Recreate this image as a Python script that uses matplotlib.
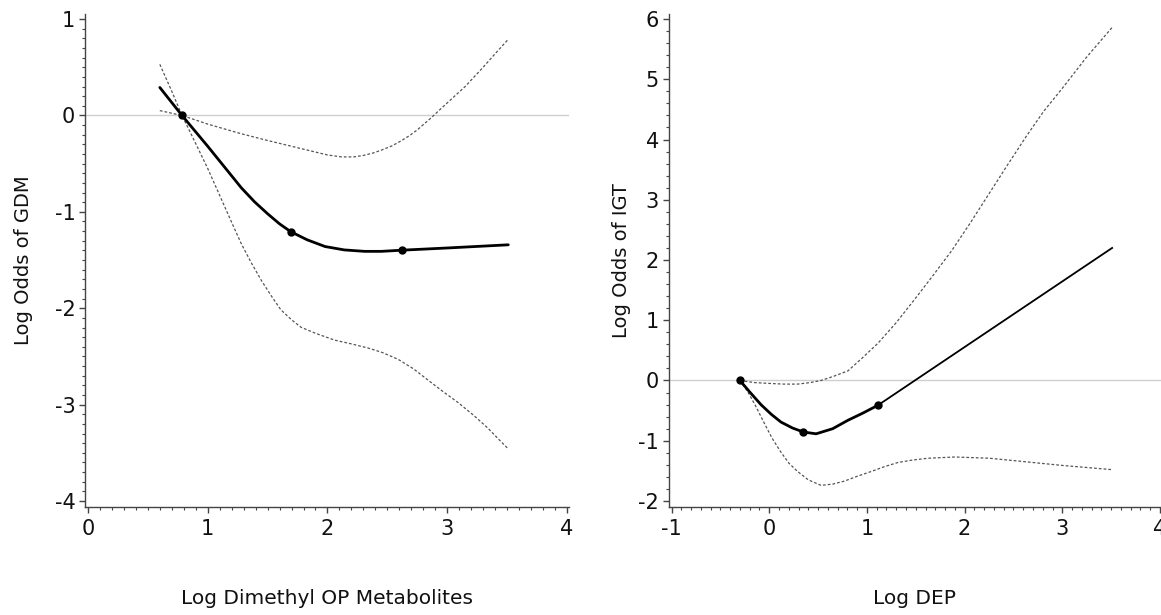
import numpy as np
import matplotlib
matplotlib.use("Agg")
import matplotlib.pyplot as plt
from matplotlib.ticker import MultipleLocator

plt.rcParams["font.family"] = ["DejaVu Sans"]
plt.rcParams["axes.unicode_minus"] = False

# ---- left panel: GDM vs log dimethyl OP metabolites ----
gdmX = [0.60, 0.785, 1.00, 1.14, 1.28, 1.39, 1.50, 1.60, 1.692, 1.83, 1.98, 2.14, 2.31, 2.45, 2.619, 3.00, 3.51]
gdmY = [0.29, 0.00, -0.32, -0.535, -0.75, -0.895, -1.02, -1.125, -1.205, -1.29, -1.36, -1.395, -1.41, -1.41, -1.398, -1.375, -1.342]
gdmKnotX = [0.785, 1.692, 2.619]
gdmKnotY = [0.00, -1.205, -1.398]
# steep band (above the fit left of the reference knot, below it afterwards)
gdmBandAX = [0.60, 0.70, 0.785, 0.86, 0.93, 1.00, 1.10, 1.20, 1.28, 1.36, 1.45, 1.53, 1.61, 1.70, 1.78, 1.90,
             2.06, 2.20, 2.34, 2.46, 2.59, 2.72, 2.84, 2.96, 3.09, 3.22, 3.34, 3.43, 3.51]
gdmBandAY = [0.53, 0.25, 0.00, -0.19, -0.37, -0.55, -0.83, -1.11, -1.33, -1.52, -1.716, -1.87, -2.015, -2.12, -2.198, -2.26,
             -2.331, -2.37, -2.413, -2.46, -2.53, -2.63, -2.746, -2.86, -2.978, -3.11, -3.244, -3.36, -3.459]
# shallow band (below the fit left of the reference knot, above it afterwards)
gdmBandBX = [0.60, 0.785, 1.00, 1.14, 1.28, 1.50, 1.70, 1.90, 2.00, 2.115, 2.22, 2.30, 2.38, 2.45, 2.54, 2.62,
             2.69, 2.75, 2.81, 2.87, 2.93, 3.00, 3.075, 3.15, 3.225, 3.30, 3.40, 3.51]
gdmBandBY = [0.05, 0.00, -0.09, -0.14, -0.19, -0.26, -0.32, -0.38, -0.41, -0.43, -0.43, -0.415, -0.39, -0.36, -0.315, -0.26,
             -0.205, -0.15, -0.085, -0.02, 0.05, 0.13, 0.215, 0.30, 0.40, 0.50, 0.64, 0.79]

# ---- right panel: IGT vs log DEP ----
igtX = [-0.30, -0.20, -0.085, 0.02, 0.12, 0.24, 0.349, 0.48, 0.65, 0.806, 0.96, 1.114, 3.51]
igtY = [0.00, -0.19, -0.40, -0.56, -0.69, -0.79, -0.855, -0.885, -0.80, -0.66, -0.54, -0.41, 2.20]
igtKnotX = [-0.30, 0.349, 1.114]
igtKnotY = [0.00, -0.855, -0.41]
igtUpX = [-0.30, -0.15, 0.017, 0.15, 0.29, 0.42, 0.53, 0.66, 0.806, 0.95, 1.114, 1.30, 1.49, 1.68, 1.87,
          2.06, 2.25, 2.44, 2.63, 2.81, 3.00, 3.25, 3.51]
igtUpY = [0.00, -0.035, -0.05, -0.06, -0.06, -0.035, 0.00, 0.07, 0.16, 0.37, 0.62, 0.96, 1.35, 1.75, 2.16,
          2.62, 3.10, 3.58, 4.05, 4.47, 4.85, 5.37, 5.86]
igtLoX = [-0.30, -0.222, -0.14, -0.05, 0.03, 0.12, 0.20, 0.29, 0.40, 0.53, 0.65, 0.77, 0.90, 1.045, 1.18,
          1.32, 1.47, 1.628, 1.90, 2.25, 2.63, 3.00, 3.51]
igtLoY = [0.00, -0.18, -0.42, -0.71, -0.96, -1.19, -1.37, -1.51, -1.65, -1.74, -1.72, -1.67, -1.59, -1.51, -1.43,
          -1.36, -1.32, -1.29, -1.27, -1.29, -1.35, -1.41, -1.48]

AXIS_COLOR = "#444444"
TEXT_COLOR = "#111111"
BAND_STYLE = dict(color="#555555", linewidth=0.9, linestyle=(0, (2.2, 1.6)))


def StyleAxes(ax, xlim, ylim, yMinor, xlabel, ylabel, ylabelX):
    ax.set_xlim(*xlim)
    ax.set_ylim(*ylim)
    ax.xaxis.set_major_locator(MultipleLocator(1))
    ax.xaxis.set_minor_locator(MultipleLocator(0.1))
    ax.yaxis.set_major_locator(MultipleLocator(1))
    ax.yaxis.set_minor_locator(MultipleLocator(yMinor))
    for side in ("top", "right"):
        ax.spines[side].set_visible(False)
    for side in ("left", "bottom"):
        ax.spines[side].set_color(AXIS_COLOR)
        ax.spines[side].set_linewidth(1.0)
    ax.tick_params(which="major", length=4.5, width=1, color=AXIS_COLOR, labelsize=15, labelcolor=TEXT_COLOR)
    ax.tick_params(axis="x", which="major", pad=4)
    ax.tick_params(axis="y", which="major", pad=2.5)
    ax.tick_params(which="minor", length=2.5, width=0.8, color=AXIS_COLOR)
    ax.set_xlabel(xlabel, fontsize=14.5, color=TEXT_COLOR)
    ax.set_ylabel(ylabel, fontsize=14, color=TEXT_COLOR)
    ax.xaxis.set_label_coords(0.5, -0.166)
    ax.yaxis.set_label_coords(ylabelX, 0.5)
    ax.axhline(0, color="#cfcfcf", linewidth=1.0, zorder=0)


fig = plt.figure(figsize=(11.61, 6.15), dpi=100)
axL = fig.add_axes([0.0732, 0.1756, 0.4169, 0.8016])
axR = fig.add_axes([0.5758, 0.1756, 0.4246, 0.8016])

StyleAxes(axL, (-0.025, 4.017), (-4.062, 1.052), 0.1, "Log Dimethyl OP Metabolites", "Log Odds of GDM", -0.108)
axL.plot(gdmBandAX, gdmBandAY, **BAND_STYLE)
axL.plot(gdmBandBX, gdmBandBY, **BAND_STYLE)
axL.plot(gdmX, gdmY, color="black", linewidth=2.0, solid_capstyle="round", solid_joinstyle="round")
axL.plot(gdmKnotX, gdmKnotY, "o", color="black", markersize=5, zorder=5)

StyleAxes(axR, (-1.031, 4.015), (-2.10, 6.083), 0.2, "Log DEP", "Log Odds of IGT", -0.077)
axR.plot(igtUpX, igtUpY, **BAND_STYLE)
axR.plot(igtLoX, igtLoY, **BAND_STYLE)
axR.plot(igtX[:-1], igtY[:-1], color="black", linewidth=2.0, solid_capstyle="round", solid_joinstyle="round")
axR.plot(igtX[-2:], igtY[-2:], color="black", linewidth=1.3)
axR.plot(igtKnotX, igtKnotY, "o", color="black", markersize=5, zorder=5)

fig.savefig("out.png", dpi=100)
